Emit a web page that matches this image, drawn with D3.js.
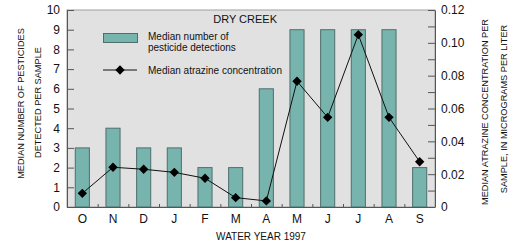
<!DOCTYPE html>
<html>
<head>
<meta charset="utf-8">
<script src="https://cdn.jsdelivr.net/npm/d3@7"></script>
<style>
  body { margin: 0; background: #fff; }
  svg { font-family: Arial, "Liberation Sans", Helvetica, sans-serif; }
  .axis path, .axis line { stroke: #555; }
  .axis text { fill: #111; }
</style>
</head>
<body>
<svg class="chart"></svg>
<script>
// water year 1997, Oct -> Sep
const months = ["O", "N", "D", "J", "F", "M", "A", "M", "J", "J", "A", "S"];
const detections = [3, 4, 3, 3, 2, 2, 6, 9, 9, 9, 9, 2];
const atrazine = [0.0083, 0.0242, 0.023, 0.0211, 0.0175, 0.0057, 0.0037, 0.0766, 0.0546, 0.105, 0.0546, 0.0276];
const leftTicks = [0, 1, 2, 3, 4, 5, 6, 7, 8, 9, 10];
const rightTicks = [0, 0.01, 0.02, 0.03, 0.04, 0.05, 0.06, 0.07, 0.08, 0.09, 0.10, 0.11, 0.12];

const WIDTH = 520, HEIGHT = 249;
const margins = { top: 10, right: 85, bottom: 42, left: 67 };
const plotW = WIDTH - margins.left - margins.right;
const plotH = HEIGHT - margins.top - margins.bottom;

const svg = d3.select('.chart')
    .attr('width', WIDTH)
    .attr('height', HEIGHT);

const g = svg.append('g')
    .attr('transform', 'translate(' + margins.left + ',' + margins.top + ')');

const x = d3.scaleBand()
    .domain(d3.range(months.length))
    .range([0, plotW])
    .paddingInner(0.54)
    .paddingOuter(0.27);

const xEdge = d3.scaleLinear().domain([0, months.length]).range([0, plotW]);

const yL = d3.scaleLinear().domain([0, 10]).range([plotH, 0]);
const yR = d3.scaleLinear().domain([0, 0.12]).range([plotH, 0]);

// plot background
g.append('rect')
    .attr('width', plotW)
    .attr('height', plotH)
    .attr('fill', '#e1e1e1')
    .attr('stroke', '#a0a0a0')
    .attr('stroke-width', 1);

// bars
g.selectAll('.bar')
    .data(detections)
    .enter()
    .append('rect')
    .attr('class', 'bar')
    .attr('x', (d, i) => x(i))
    .attr('y', d => yL(d))
    .attr('width', x.bandwidth())
    .attr('height', d => plotH - yL(d))
    .attr('fill', '#78b4ae')
    .attr('stroke', '#4f6f6c')
    .attr('stroke-width', 1);

// boundary ticks on the x axis
g.append('g')
    .attr('class', 'axis')
    .attr('transform', 'translate(0,' + plotH + ')')
    .call(d3.axisBottom(xEdge).tickValues(d3.range(1, months.length)).tickSize(-3).tickFormat(''))
    .call(a => a.select('.domain').remove())
    .selectAll('line').attr('stroke', '#999');

// month labels
g.append('g')
    .attr('class', 'axis')
    .attr('transform', 'translate(0,' + plotH + ')')
    .call(d3.axisBottom(x).tickSize(0).tickPadding(7).tickFormat(i => months[i]))
    .call(a => a.selectAll('text').attr('font-size', 12).attr('font-family', null))
    .call(a => a.select('.domain').attr('d', 'M0,0.5H' + plotW));

// left axis
g.append('g')
    .attr('class', 'axis')
    .call(d3.axisLeft(yL).tickValues(leftTicks).tickSizeInner(-7).tickSizeOuter(0).tickPadding(7))
    .call(a => a.selectAll('text').attr('font-size', 12).attr('font-family', null));

// right axis
g.append('g')
    .attr('class', 'axis')
    .attr('transform', 'translate(' + plotW + ',0)')
    .call(d3.axisRight(yR).tickValues(rightTicks).tickSizeInner(-7).tickSizeOuter(0).tickPadding(6)
        .tickFormat((d, i) => i % 2 ? '' : (d === 0 ? '0' : d3.format('.2f')(d))))
    .call(a => a.selectAll('text').attr('font-size', 12).attr('font-family', null));

// atrazine line
const line = d3.line()
    .x((d, i) => x(i) + x.bandwidth() / 2)
    .y(d => yR(d));

g.append('path')
    .datum(atrazine)
    .attr('d', line)
    .attr('fill', 'none')
    .attr('stroke', '#111')
    .attr('stroke-width', 1);

const diamond = d3.symbol().type(d3.symbolDiamond2).size(56);

g.selectAll('.pt')
    .data(atrazine)
    .enter()
    .append('path')
    .attr('class', 'pt')
    .attr('d', diamond)
    .attr('transform', (d, i) => 'translate(' + (x(i) + x.bandwidth() / 2) + ',' + yR(d) + ')')
    .attr('fill', '#000');

// title + legend
svg.append('text')
    .attr('x', 277).attr('y', 23)
    .attr('text-anchor', 'end')
    .attr('font-size', 11)
    .attr('fill', '#111')
    .text('DRY CREEK');

svg.append('rect')
    .attr('x', 103.5).attr('y', 33.5)
    .attr('width', 34).attr('height', 9)
    .attr('fill', '#78b4ae')
    .attr('stroke', '#4f6f6c');

svg.append('text')
    .attr('x', 148).attr('y', 40)
    .attr('font-size', 10).attr('fill', '#111')
    .selectAll('tspan')
    .data(['Median number of', 'pesticide detections'])
    .enter()
    .append('tspan')
    .attr('x', 148)
    .attr('dy', (d, i) => i ? 11 : 0)
    .text(d => d);

svg.append('line')
    .attr('x1', 103).attr('x2', 137)
    .attr('y1', 70).attr('y2', 70)
    .attr('stroke', '#111');

svg.append('path')
    .attr('d', diamond)
    .attr('transform', 'translate(120,70)')
    .attr('fill', '#000');

svg.append('text')
    .attr('x', 148).attr('y', 73.5)
    .attr('font-size', 10).attr('fill', '#111')
    .text('Median atrazine concentration');

// axis titles, two rotated lines each
function axisTitle(baseX, cy, lines) {
    lines.forEach((s, i) => {
        svg.append('text')
            .attr('transform', 'translate(' + baseX[i] + ',' + cy[i] + ') rotate(-90)')
            .attr('text-anchor', 'middle')
            .attr('font-size', 9.2).attr('fill', '#111')
            .text(s);
    });
}

axisTitle([24, 40.5], [103.5, 102.5], ['MEDIAN NUMBER OF PESTICIDES', 'DETECTED PER SAMPLE']);
axisTitle([488, 507], [112, 109], ['MEDIAN ATRAZINE CONCENTRATION PER', 'SAMPLE, IN MICROGRAMS PER LITER']);

svg.append('text')
    .attr('x', 261).attr('y', 240)
    .attr('text-anchor', 'middle')
    .attr('font-size', 10).attr('fill', '#111')
    .text('WATER YEAR 1997');
</script>
</body>
</html>
